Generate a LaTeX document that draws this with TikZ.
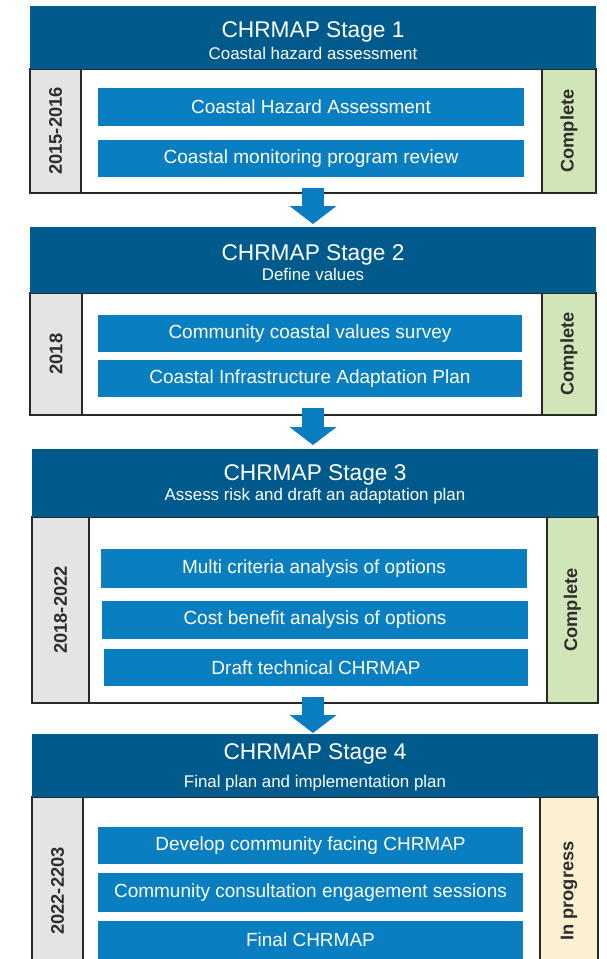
\documentclass[tikz,border=0pt]{standalone}
\usepackage{fontspec}
\setmainfont{Liberation Sans}
\usetikzlibrary{arrows.meta}
\definecolor{headblue}{RGB}{1,90,140}
\definecolor{itemblue}{RGB}{9,126,192}
\definecolor{arrowblue}{RGB}{10,124,192}
\definecolor{yeargray}{RGB}{228,228,228}
\definecolor{donegreen}{RGB}{208,230,184}
\definecolor{progtan}{RGB}{252,240,210}
\definecolor{edge}{RGB}{40,40,40}
\newcommand\mybox[7]{\node[#2, minimum width={(#5)-(#3)}, minimum height={(#6)-(#4)}] (#1) at ({((#3)+(#5))/2},{((#4)+(#6))/2}) {#7};}
\begin{document}
\begin{tikzpicture}[x=1pt,y=-1pt,
  every node/.style={inner sep=0pt, outer sep=0pt},
  body/.style={draw=edge, line width=1.2pt, fill=white},
  side/.style={draw=edge, line width=1.2pt, text=black!82, font=\bfseries\fontsize{18.3}{22}\selectfont},
  yearcol/.style={side, fill=yeargray},
  donecol/.style={side, fill=donegreen},
  progcol/.style={side, fill=progtan},
  item/.style={fill=itemblue, text=white, font=\fontsize{19}{22}\selectfont},
  head/.style={fill=headblue},
  title/.style={anchor=base, text=white, font=\fontsize{22.7}{26}\selectfont},
  subtitle/.style={anchor=base, text=white, font=\fontsize{16.9}{20}\selectfont},
  flow/.style={draw=arrowblue, line width=22pt, -{Triangle[width=47pt 0 0, length=18pt 0 0, line width=0pt]}}
]
\useasboundingbox (0,0) rectangle (607,959);
\clip (0,0) rectangle (607,959);
\fill[white] (0,0) rectangle (607,959);
% Stage 1
\mybox{s1body}{body}{30}{69}{596}{193}{}
\mybox{s1year}{yearcol}{30}{69}{81}{193}{\rotatebox{90}{2015-2016}}
\mybox{s1stat}{donecol}{542}{69}{596}{193}{\rotatebox{90}{Complete}}
\mybox{s1a}{item}{98}{88}{524}{126}{Coastal Hazard Assessment}
\mybox{s1b}{item}{98}{140}{524}{177}{Coastal monitoring program review}
\mybox{s1head}{head}{30}{6}{596}{69}{}
\node[title] (s1title) at (313,37.5) {CHRMAP Stage 1};
\node[subtitle] (s1sub) at (313,59.3) {Coastal hazard assessment};
% Stage 2
\mybox{s2body}{body}{30}{293}{596}{415}{}
\mybox{s2year}{yearcol}{30}{293}{82}{415}{\rotatebox{90}{2018}}
\mybox{s2stat}{donecol}{542}{293}{596}{415}{\rotatebox{90}{Complete}}
\mybox{s2a}{item}{98}{315}{522}{352}{Community coastal values survey}
\mybox{s2b}{item}{98}{360}{522}{397}{Coastal Infrastructure Adaptation Plan}
\mybox{s2head}{head}{30}{227}{596}{293}{}
\node[title] (s2title) at (313,260) {CHRMAP Stage 2};
\node[subtitle] (s2sub) at (313,280) {Define values};
% Stage 3
\mybox{s3body}{body}{32}{517}{598}{703}{}
\mybox{s3year}{yearcol}{32}{517}{89}{703}{\rotatebox{90}{2018-2022}}
\mybox{s3stat}{donecol}{547}{517}{598}{703}{\rotatebox{90}{Complete}}
\mybox{s3a}{item}{101}{549}{527}{588}{Multi criteria analysis of options}
\mybox{s3b}{item}{102}{601}{528}{639}{Cost benefit analysis of options}
\mybox{s3c}{item}{104}{649}{528}{686}{Draft technical CHRMAP}
\mybox{s3head}{head}{32}{449}{598}{517}{}
\node[title] (s3title) at (315,480) {CHRMAP Stage 3};
\node[subtitle] (s3sub) at (315,500) {Assess risk and draft an adaptation plan};
% Stage 4
\mybox{s4body}{body}{32}{797}{598}{985}{}
\mybox{s4year}{yearcol}{32}{797}{83}{985}{\rotatebox{90}{2022-2203}}
\mybox{s4stat}{progcol}{540}{797}{598}{985}{\rotatebox{90}{In progress}}
\mybox{s4a}{item}{98}{827}{523}{864}{Develop community facing CHRMAP}
\mybox{s4b}{item}{98}{873}{523}{912}{Community consultation engagement sessions}
\mybox{s4c}{item}{98}{921}{523}{975}{}
\node[text=white, font=\fontsize{19}{22}\selectfont] (s4ct) at (310.5,940) {Final CHRMAP};
\mybox{s4head}{head}{32}{734}{598}{797}{}
\node[title] (s4title) at (315,759) {CHRMAP Stage 4};
\node[subtitle] (s4sub) at (315,787) {Final plan and implementation plan};
% arrows
\draw[flow] ([yshift=5pt]s1body.south) -- ([yshift=3pt]s2head.north -| s1body.south);
\draw[flow] ([yshift=7pt]s2body.south) -- ([yshift=4pt]s3head.north -| s2body.south);
\draw[flow] ([yshift=6pt]s3body.south -| s2body.south) -- ([yshift=1pt]s4head.north -| s2body.south);
\end{tikzpicture}
\end{document}
